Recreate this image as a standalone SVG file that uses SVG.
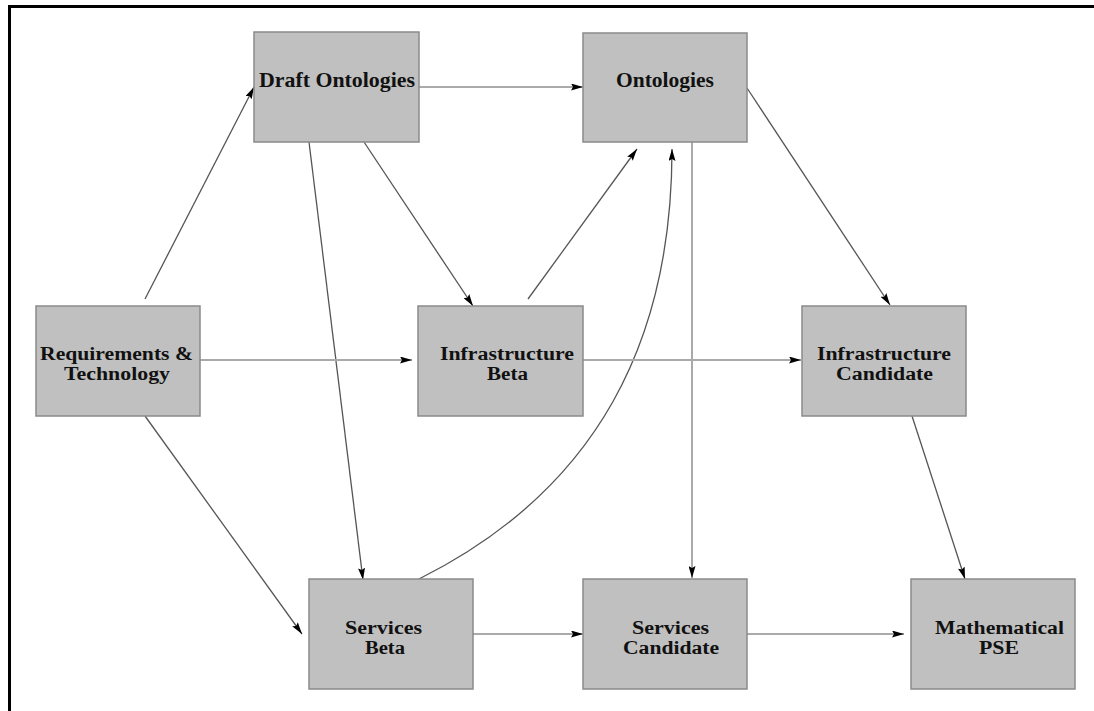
<svg xmlns="http://www.w3.org/2000/svg" width="1094" height="711" viewBox="0 0 1094 711">
<style>
.box{fill:#c0c0c0;stroke:#8a8a8a;stroke-width:1.5}
.lbl{font-family:"Liberation Serif","Times New Roman",serif;font-weight:bold;font-size:21.5px;fill:#111;text-anchor:middle}
.two{font-size:18px}
.dk{fill:none;stroke:#555;stroke-width:1.3;marker-end:url(#ah)}
.lt{fill:none;stroke:#aaa;stroke-width:2;marker-end:url(#ah)}
</style>
<defs>
<marker id="ah" viewBox="0 0 12 7" refX="12" refY="3.5" markerWidth="12" markerHeight="7" markerUnits="userSpaceOnUse" orient="auto">
<path d="M0,0 L12,3.5 L0,7 L2,3.5 z" fill="#000"/>
</marker>
</defs>
<rect width="1094" height="711" fill="#fff"/>
<path d="M9.5,711 V6.5 H1094" fill="none" stroke="#000" stroke-width="3"/>
<g id="connectors">
<line class="dk" x1="145" y1="299" x2="254" y2="87"/>
<line class="lt" x1="419" y1="87" x2="583" y2="87"/>
<line class="dk" x1="364" y1="142" x2="473" y2="306"/>
<line class="dk" x1="309" y1="142" x2="363" y2="580"/>
<line class="lt" x1="200" y1="360" x2="412" y2="360"/>
<line class="dk" x1="145" y1="416" x2="302" y2="634"/>
<line class="dk" x1="528" y1="299" x2="637" y2="149"/>
<path class="dk" d="M419,579 C599,489 672,339 672,149"/>
<line class="dk" x1="747" y1="88" x2="890" y2="305"/>
<line class="lt" x1="692" y1="142" x2="692" y2="578"/>
<line class="lt" x1="583" y1="360" x2="801" y2="360"/>
<line class="dk" x1="912" y1="416" x2="965" y2="579"/>
<line class="lt" x1="473" y1="634" x2="583" y2="634"/>
<line class="lt" x1="747" y1="634" x2="904" y2="634"/>
</g>
<g id="draft-ontologies">
<rect class="box" x="254" y="32" width="165" height="110"/>
<text class="lbl" x="337" y="87" textLength="156" lengthAdjust="spacingAndGlyphs">Draft Ontologies</text>
</g>
<g id="ontologies">
<rect class="box" x="583" y="33" width="164" height="109"/>
<text class="lbl" x="665" y="87" textLength="98" lengthAdjust="spacingAndGlyphs">Ontologies</text>
</g>
<g id="requirements">
<rect class="box" x="36" y="306" width="164" height="110"/>
<text class="lbl two" x="116.5" y="360" textLength="153" lengthAdjust="spacingAndGlyphs">Requirements &amp;</text>
<text class="lbl two" x="117" y="380" textLength="106" lengthAdjust="spacingAndGlyphs">Technology</text>
</g>
<g id="infrastructure-beta">
<rect class="box" x="418" y="306" width="165" height="110"/>
<text class="lbl two" x="507" y="360" textLength="134" lengthAdjust="spacingAndGlyphs">Infrastructure</text>
<text class="lbl two" x="507.5" y="380" textLength="41" lengthAdjust="spacingAndGlyphs">Beta</text>
</g>
<g id="infrastructure-candidate">
<rect class="box" x="802" y="306" width="164" height="110"/>
<text class="lbl two" x="884" y="360" textLength="134" lengthAdjust="spacingAndGlyphs">Infrastructure</text>
<text class="lbl two" x="884.5" y="380" textLength="97" lengthAdjust="spacingAndGlyphs">Candidate</text>
</g>
<g id="services-beta">
<rect class="box" x="309" y="579" width="164" height="110"/>
<text class="lbl two" x="383.5" y="634" textLength="77" lengthAdjust="spacingAndGlyphs">Services</text>
<text class="lbl two" x="385" y="654" textLength="40" lengthAdjust="spacingAndGlyphs">Beta</text>
</g>
<g id="services-candidate">
<rect class="box" x="583" y="579" width="164" height="110"/>
<text class="lbl two" x="670.5" y="634" textLength="77" lengthAdjust="spacingAndGlyphs">Services</text>
<text class="lbl two" x="671" y="654" textLength="96" lengthAdjust="spacingAndGlyphs">Candidate</text>
</g>
<g id="mathematical-pse">
<rect class="box" x="911" y="579" width="164" height="110"/>
<text class="lbl two" x="999.5" y="634" textLength="129" lengthAdjust="spacingAndGlyphs">Mathematical</text>
<text class="lbl two" x="999" y="654" textLength="40" lengthAdjust="spacingAndGlyphs">PSE</text>
</g>
</svg>
